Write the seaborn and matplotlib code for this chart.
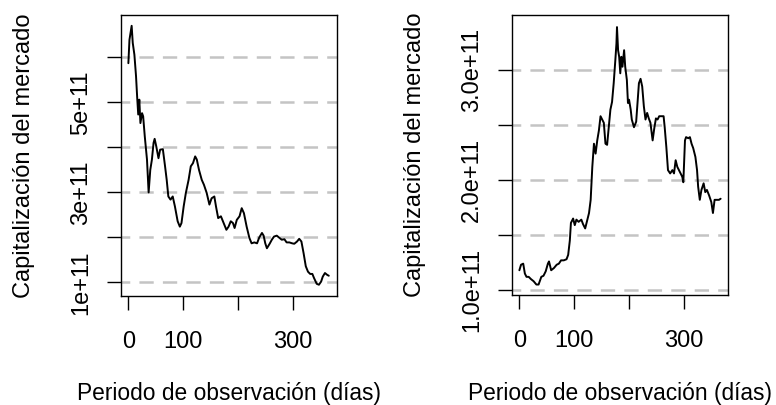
import matplotlib
matplotlib.use("Agg")
import matplotlib.pyplot as plt
import seaborn as sns
import pandas as pd

# ---------------- data ----------------
dias_izq = [0, 2, 6, 8, 11, 14, 16, 18, 20, 22, 25, 27, 30, 34, 37, 40, 43, 46, 48, 51,
            55, 58, 63, 67, 70, 73, 77, 81, 85, 90, 94, 97, 101, 105, 110, 114, 118, 122, 125, 129,
            134, 138, 143, 148, 152, 157, 160, 164, 169, 174, 179, 183, 187, 191, 194, 198, 203, 207, 211, 216,
            221, 225, 230, 235, 239, 244, 247, 250, 253, 258, 262, 266, 271, 276, 280, 285, 289, 294, 299, 303,
            308, 312, 316, 320, 324, 328, 332, 336, 339, 344, 348, 352, 355, 359, 363, 366]
cap_izq = [5.87, 6.39, 6.70, 6.32, 6.06, 5.58, 5.13, 4.73, 5.06, 4.54, 4.76, 4.69, 4.24, 3.73, 3.00, 3.50, 3.73, 4.10, 4.19, 4.02,
           3.76, 3.95, 3.96, 3.58, 3.28, 2.91, 2.84, 2.91, 2.69, 2.36, 2.24, 2.32, 2.69, 2.99, 3.28, 3.58, 3.65, 3.80, 3.73, 3.50,
           3.28, 3.17, 2.99, 2.73, 2.87, 2.91, 2.69, 2.43, 2.47, 2.32, 2.17, 2.24, 2.36, 2.32, 2.21, 2.39, 2.47, 2.65, 2.54, 2.24,
           1.99, 1.87, 1.89, 1.87, 2.00, 2.10, 2.04, 1.87, 1.76, 1.86, 1.95, 2.02, 2.04, 1.99, 1.95, 1.96, 1.89, 1.89, 1.87, 1.86,
           1.91, 1.97, 1.91, 1.65, 1.36, 1.24, 1.19, 1.19, 1.10, 0.97, 0.95, 1.02, 1.13, 1.21, 1.17, 1.15]
cap_izq = [v * 1e11 for v in cap_izq]

dias_der = [0, 3, 7, 10, 13, 17, 21, 26, 31, 35, 40, 44, 48, 52, 54, 58, 63, 68, 72, 76,
            81, 86, 89, 92, 94, 98, 101, 104, 108, 113, 116, 120, 124, 127, 130, 133, 136, 139, 142, 145,
            148, 151, 154, 157, 160, 163, 166, 169, 172, 175, 177, 178, 180, 182, 184, 186, 188, 191, 193, 196,
            198, 200, 203, 205, 209, 213, 215, 218, 221, 224, 227, 230, 233, 236, 239, 243, 246, 249, 252, 255,
            259, 263, 265, 268, 271, 275, 279, 282, 285, 288, 291, 294, 297, 299, 302, 304, 308, 311, 314, 317,
            321, 324, 326, 329, 332, 336, 339, 342, 346, 350, 353, 356, 360, 364, 367]
cap_der = [1.18, 1.23, 1.24, 1.15, 1.12, 1.12, 1.10, 1.08, 1.05, 1.05, 1.12, 1.13, 1.17, 1.24, 1.26, 1.18, 1.20, 1.23, 1.24, 1.27,
           1.27, 1.28, 1.32, 1.45, 1.61, 1.65, 1.59, 1.64, 1.62, 1.64, 1.60, 1.56, 1.64, 1.70, 1.82, 2.12, 2.33, 2.24, 2.36, 2.45,
           2.58, 2.55, 2.52, 2.33, 2.32, 2.48, 2.64, 2.71, 2.88, 3.09, 3.24, 3.39, 3.18, 3.12, 2.97, 3.12, 3.03, 3.18, 3.03, 2.91,
           2.70, 2.73, 2.64, 2.55, 2.48, 2.53, 2.67, 2.88, 2.92, 2.85, 2.67, 2.55, 2.61, 2.56, 2.52, 2.36, 2.47, 2.56, 2.55, 2.58,
           2.58, 2.58, 2.48, 2.30, 2.09, 2.06, 2.09, 2.06, 2.18, 2.12, 2.09, 2.06, 2.03, 1.98, 2.36, 2.39, 2.38, 2.39, 2.33, 2.29,
           2.21, 2.09, 1.94, 1.82, 1.91, 1.97, 1.89, 1.91, 1.86, 1.80, 1.70, 1.82, 1.82, 1.82, 1.83]
cap_der = [v * 1e11 for v in cap_der]

x_ticks = [0, 100, 200, 300]
x_labels = ["0", "100", "", "300"]
y_ticks_izq = [1e11, 2e11, 3e11, 4e11, 5e11, 6e11]
y_labels_izq = ["1e+11", "", "3e+11", "", "5e+11", ""]
y_ticks_der = [1.0e11, 1.5e11, 2.0e11, 2.5e11, 3.0e11]
y_labels_der = ["1.0e+11", "", "2.0e+11", "", "3.0e+11"]

x_title = "Periodo de observación (días)"
y_title = "Capitalización del mercado"

# ---------------- style ----------------
sns.set_theme(style="white")
plt.rcParams["lines.scale_dashes"] = False
FONT, FSIZE = ["Liberation Sans", "DejaVu Sans"], 17.0
XLSIZE = 16.4

W, H = 776, 405
fig = plt.figure(figsize=(W / 100, H / 100), dpi=100)


def make_axes(l, r, t, b):
    return fig.add_axes([l / W, 1 - b / H, (r - l) / W, (b - t) / H])


panels = [
    dict(box=(120.7, 337.0, 15.0, 296.0), x=dias_izq, y=cap_izq,
         ylim=(0.70e11, 6.94e11), yt=y_ticks_izq, yl=y_labels_izq),
    dict(box=(511.7, 728.3, 15.0, 295.0), x=dias_der, y=cap_der,
         ylim=(0.955e11, 3.50e11), yt=y_ticks_der, yl=y_labels_der),
]

for p in panels:
    l, r, t, b = p["box"]
    ax = make_axes(l, r, t, b)
    df = pd.DataFrame({"dia": p["x"], "cap": p["y"]})
    for yv in p["yt"]:
        ax.axhline(yv, color="#C4C4C4", lw=1.8, ls=(4.0, (10.3, 6.6)), zorder=1)
    sns.lineplot(data=df, x="dia", y="cap", ax=ax, color="black", lw=1.4,
                 estimator=None, sort=False, legend=False, zorder=3)
    ax.set_xlim(-14, 381)
    ax.set_ylim(*p["ylim"])
    ax.set_xticks(x_ticks)
    ax.set_xticklabels(x_labels, fontfamily=FONT, fontsize=FSIZE)
    ax.set_yticks(p["yt"])
    ax.set_yticklabels(p["yl"], fontfamily=FONT, fontsize=FSIZE,
                       rotation=90, va="center", ha="right")
    ax.tick_params(axis="both", direction="out", length=10, width=1.0,
                   color="black", labelcolor="black", bottom=True, left=True)
    ax.tick_params(axis="x", pad=15)
    ax.tick_params(axis="y", pad=10.5)
    for s in ax.spines.values():
        s.set_visible(True)
        s.set_color("black")
        s.set_linewidth(1.0)
    ax.set_facecolor("white")
    ax.grid(False)
    ax.set_xlabel(x_title, fontfamily=FONT, fontsize=XLSIZE, color="black")
    ax.set_ylabel(y_title, fontfamily=FONT, fontsize=FSIZE, color="black")
    wpx, hpx = r - l, b - t
    ax.xaxis.set_label_coords(0.5, (b - 382) / hpx)
    ax.yaxis.set_label_coords(-(86.0) / wpx, 0.5)

fig.savefig("out.png", dpi=100, facecolor="white")
